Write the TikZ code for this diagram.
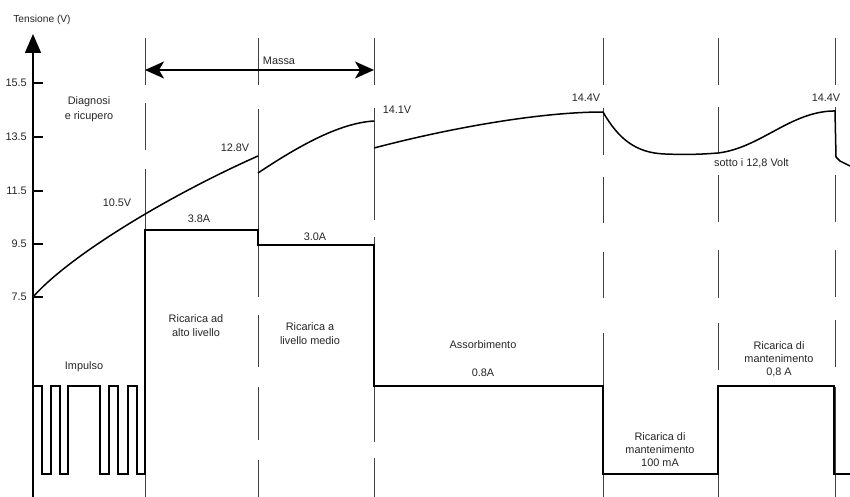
\documentclass[tikz,border=0pt]{standalone}
\usepackage{fontspec}
\setmainfont{Liberation Sans}
\usetikzlibrary{arrows.meta}
\begin{document}
\begin{tikzpicture}[x=1pt,y=-1pt,
  lbl/.style={font=\fontsize{10.9}{13}\selectfont, text=black!85, inner sep=0pt, align=center},
  guide/.style={line width=0.8pt, draw=black!75},
  vcurve/.style={line width=1.5pt, line join=round},
  icurve/.style={line width=1.3pt, line join=miter},
  tickmark/.style={line width=1.5pt}]
\useasboundingbox (0,0) rectangle (850,497);

% axis
\coordinate (ybot) at (33,497);
\coordinate (ytop) at (33,34);
\draw[line width=1.6pt, -{Triangle[length=19pt,width=16pt]}] (ybot) -- (ytop);
\node[lbl, font=\fontsize{10.2}{12}\selectfont] (ylab) at (42,20) {Tensione (V)};
\foreach \i/\v/\y in {1/15.5/83, 2/13.5/137, 3/11.5/191, 4/9.5/244, 5/7.5/297}{
  \draw[tickmark] (33,\y) -- (43,\y);
  \node[lbl, anchor=east] (tick\i) at (27,\y) {\v};
}

% guide lines (broken verticals)
\foreach \x/\segs in {
  145/{38/85,103/150,169/497},
  258/{38/85,109/297,315/367,387/440,460/497},
  374/{38/85,108/220,237/442,458/497},
  603/{38/85,108/155,177/223,252/298,333/497},
  718/{38/85,107/153,175/222,250/298,323/370,387/497},
  835/{38/85,107/157,175/222,250/297,320/367,387/497}}{
  \foreach \a/\b in \segs { \draw[guide] (\x,\a) -- (\x,\b); }
}

% Massa arrow
\coordinate (mL) at (145,70);
\coordinate (mR) at (374,70);
\draw[line width=1.5pt, {Stealth[length=19pt,width=17pt,inset=5pt]}-{Stealth[length=19pt,width=17pt,inset=5pt]}] (mL) -- (mR);
\node[lbl] (massa) at (279,61) {Massa};

% voltage curve
\draw[vcurve] (33,297) .. controls (70,255) and (170,195) .. (258,156);
\draw[vcurve] (258,173) .. controls (300,145) and (340,123) .. (374,121);
\draw[vcurve] (374,148) .. controls (450,128) and (540,112) .. (603,112);
\draw[vcurve] (603,112) .. controls (618,138) and (635,153) .. (665,154)
   .. controls (690,155) and (705,154) .. (718,153)
   .. controls (760,148) and (790,112) .. (833,111) -- (835,111) -- (836,157) -- (840,161) -- (850,166);

% current curve
\draw[icurve] (33,386) -- (42,386) -- (42,474) -- (51,474) -- (51,386) -- (60,386) -- (60,474)
  -- (68,474) -- (68,386) -- (100,386) -- (100,474) -- (109,474) -- (109,386) -- (118,386)
  -- (118,474) -- (128,474) -- (128,386) -- (137,386) -- (137,474) -- (145,474)
  -- (145,230) -- (258,230) -- (258,245) -- (374,245) -- (374,386) -- (603,386)
  -- (603,474) -- (718,474) -- (718,386) -- (834,386) -- (834,474) -- (850,474);

% labels
\node[lbl, font=\fontsize{10.9}{15}\selectfont] (diag) at (89,109.5) {Diagnosi\\e ricupero};
\node[lbl] (v105) at (117,203) {10.5V};
\node[lbl] (v128) at (235,148) {12.8V};
\node[lbl] (v141) at (397,110) {14.1V};
\node[lbl] (v144a) at (586,98) {14.4V};
\node[lbl] (v144b) at (826,98) {14.4V};
\node[lbl, anchor=west] (sotto) at (714,163) {sotto i 12,8 Volt};
\node[lbl] (a38) at (199,219) {3.8A};
\node[lbl] (a30) at (315,237) {3.0A};
\node[lbl, font=\fontsize{10.9}{14}\selectfont] (alto) at (196,326) {Ricarica ad\\alto livello};
\node[lbl, font=\fontsize{10.9}{14}\selectfont] (medio) at (310,334) {Ricarica a\\livello medio};
\node[lbl] (imp) at (84,367) {Impulso};
\node[lbl] (assorb) at (483,345) {Assorbimento};
\node[lbl] (a08) at (483,373) {0.8A};
\node[lbl] (mant1) at (660,450) {Ricarica di\\mantenimento\\100 mA};
\node[lbl] (mant2) at (779,359) {Ricarica di\\mantenimento\\0,8 A};
\end{tikzpicture}
\end{document}
